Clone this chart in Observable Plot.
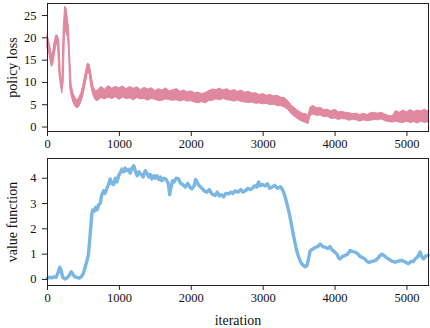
<!DOCTYPE html>
<html>
<head>
<meta charset="utf-8">
<script src="https://cdn.jsdelivr.net/npm/d3@7"></script>
<script src="https://cdn.jsdelivr.net/npm/@observablehq/plot@0.6"></script>
<style>
  html, body { margin: 0; padding: 0; background: white; }
  #c svg { display: block; }
  #c svg text { font-family: 'Liberation Serif', 'Times New Roman', serif; }
</style>
</head>
<body>
<div id="c" style="width:430px"></div>
<script>
// policy loss: iteration, lower and upper edge of the noisy band
const lossIter = [0,20,40,60,80,100,120,145,165,185,205,225,245,265,285,300,315,335,360,390,415,440,470,500,530,560,585,610,640,670,
  700,750,800,850,900,950,1000,1050,1100,1150,1200,1250,1300,1350,1400,1450,1500,1550,1600,1650,1700,1750,1800,1850,1900,1950,
  2000,2050,2100,2150,2200,2250,2300,2350,2400,2450,2500,2550,2600,2650,2700,2750,2800,2850,2900,2950,3000,3050,3100,3150,3200,3250,3300,
  3350,3400,3450,3500,3550,3600,3630,3660,3700,3750,3800,3850,3900,3950,
  4000,4050,4100,4150,4200,4250,4300,4350,4400,4450,4500,4550,4600,4650,4700,4750,4800,4850,4900,4950,5000,5050,5100,5150,5200,5250,5300];
const lossLo = [17.5,17,15,13.5,14,16,18,19,12,9.5,7.5,10,22,21,20,17,9,7,5.5,4.5,4.2,4.5,5.5,7,9.5,12,12,9,7,6,
  5.8,6.5,6.2,6.6,6.3,6.7,6.1,6.6,6.3,6.4,6.0,6.5,6.2,6.3,5.9,6.3,6.1,5.8,5.9,6.2,6.0,5.9,6.0,5.7,6.0,5.7,
  5.8,5.5,5.3,5.6,5.3,5.8,5.9,6.2,6.0,6.3,6.0,5.9,5.7,5.9,5.6,5.5,5.4,5.5,5.2,5.3,5.1,5.2,4.9,5.0,4.7,4.7,4.4,
  3.8,2.8,2.2,1.6,1.2,0.9,0.6,2.5,2.8,2.5,2.6,2.2,2.3,1.8,
  1.9,1.6,1.8,1.7,1.4,1.6,1.5,1.2,1.5,1.3,1.4,1.6,1.5,1.7,1.3,1.1,1.0,1.2,1.0,0.9,1.2,0.9,1.1,0.8,1.2,0.9,1.1];
const lossHi = [20.5,19.5,18,16,17,19,20.5,20.5,19,12,9.5,22,27,26.5,24,22,16,9.5,7.5,6.5,6,6.5,7.5,9.5,12,14.2,14,12,9,8,
  8.2,9.0,8.4,9.2,8.6,9.0,8.7,9.1,8.5,9.0,8.6,8.9,8.3,8.8,8.4,8.7,8.1,8.5,8.2,8.7,8.0,8.3,8.5,7.9,8.2,7.8,
  8.0,7.6,7.7,7.4,7.6,8.1,8.4,8.3,8.6,8.2,8.5,8.0,8.3,7.9,8.2,7.7,7.9,7.5,7.6,7.2,7.4,7.0,7.2,6.9,7.0,6.6,6.5,
  5.8,4.8,4.1,3.5,3.0,2.9,2.5,4.4,4.7,4.2,4.3,3.8,3.9,3.5,
  3.9,3.3,3.4,3.2,3.1,2.9,3.0,2.7,3.0,2.7,3.1,3.2,3.0,3.2,2.8,2.5,2.4,3.6,3.2,3.7,3.3,3.8,3.4,3.7,3.5,3.9,3.5];

// value function
const valueIter = [0,30,60,90,120,150,170,190,210,240,270,300,330,350,380,410,440,470,500,524,550,570,585,600,617,630,650,670,690,710,733,755,780,800,826,850,872,895,920,945,965,990,
  1010,1035,1060,1080,1105,1130,1150,1175,1200,1220,1246,1270,1300,1330,1360,1382,1410,1430,1453,1480,1500,1522,1550,1570,1591,1620,1650,1680,1700,1715,1740,1760,1790,1823,1850,1880,1917,1950,1980,
  2010,2040,2060,2080,2110,2150,2180,2217,2250,2280,2310,2333,2360,2390,2420,2449,2480,2518,2550,2580,2611,2650,2690,2720,2750,2790,2820,2850,2880,2910,2936,2960,2990,
  3030,3060,3090,3122,3160,3200,3240,3262,3285,3307,3330,3354,3375,3400,3420,3445,3470,3494,3520,3540,3560,3585,3610,3630,3655,3690,3723,3760,3793,3830,3866,3900,3930,3958,3990,
  4026,4050,4070,4100,4140,4175,4210,4245,4280,4320,4350,4372,4410,4440,4466,4500,4530,4560,4600,4630,4652,4690,4720,4745,4790,4838,4880,4930,4970,
  5020,5060,5090,5114,5150,5183,5205,5230,5260,5295];
const valueVal = [0.05,0.09,0.06,0.1,0.08,0.3,0.48,0.35,0.1,0.02,0.06,0.15,0.3,0.22,0.1,0.08,0.05,0.1,0.25,0.48,0.75,1.0,1.5,2.0,2.6,2.75,2.7,2.85,2.75,2.95,3.0,3.35,3.5,3.4,3.6,3.75,3.97,3.8,3.75,4.0,3.85,4.1,
  4.2,4.36,4.25,4.4,4.3,4.35,4.2,4.4,4.49,4.3,4.1,4.25,4.15,4.05,4.3,4.2,4.05,4.15,3.97,4.1,4.0,4.1,3.95,4.05,3.9,4.0,3.95,3.8,3.35,3.6,3.9,3.85,4.0,3.97,3.8,3.75,3.65,3.8,3.65,
  3.58,3.7,3.95,3.85,3.7,3.6,3.5,3.45,3.55,3.4,3.35,3.32,3.45,3.3,3.35,3.26,3.4,3.38,3.45,3.4,3.5,3.45,3.55,3.45,3.5,3.6,3.55,3.6,3.7,3.65,3.85,3.7,3.75,
  3.7,3.78,3.6,3.65,3.72,3.6,3.66,3.58,3.45,3.24,3.0,2.72,2.45,2.06,1.75,1.42,1.1,0.88,0.7,0.6,0.55,0.5,0.55,0.8,1.14,1.2,1.27,1.3,1.4,1.3,1.27,1.22,1.3,1.17,1.1,
  1.0,0.85,0.81,0.9,0.95,1.0,1.14,1.1,1.08,1.0,0.9,0.88,0.82,0.72,0.68,0.7,0.72,0.75,0.85,0.95,1.0,0.92,0.85,0.81,0.72,0.68,0.72,0.75,0.7,
  0.62,0.72,0.7,0.81,0.9,1.08,0.9,0.81,0.92,0.95];

const xTicks = [0,1000,2000,3000,4000,5000];
const lossTicks = [0,5,10,15,20,25];
const valueTicks = [0,1,2,3,4];
const lossLabel = "policy loss";
const valueLabel = "value function";
const xLabel = "iteration";

const pink = "#e0889f";
const blue = "#7ab7e4";
const serif = "'Liberation Serif', 'Times New Roman', serif";

const lossData = lossIter.map((it, i) => ({iter: it, lo: lossLo[i], hi: lossHi[i]}));
const valueData = valueIter.map((it, i) => ({iter: it, v: valueVal[i]}));

const chartStyle = {fontFamily: serif, fontSize: "12.5px", color: "#111", background: "white", overflow: "visible"};
const axisText = {fontFamily: serif, fontSize: 12.5, fontVariant: "normal", stroke: "#222", color: "#111"};
const yTitle = (t) => Plot.text([t], {text: d => d, frameAnchor: "left", dx: -34.5, rotate: -90, textAnchor: "middle", lineAnchor: "middle", fontSize: 14, fontFamily: serif, fill: "#111"});

const topChart = Plot.plot({
  width: 430, height: 155,
  marginLeft: 47, marginRight: 2, marginTop: 3, marginBottom: 24,
  style: chartStyle,
  x: {domain: [0, 5300]},
  y: {domain: [-1, 27.7]},
  marks: [
    Plot.areaY(lossData, {x: "iter", y1: "lo", y2: "hi", fill: pink, stroke: pink, strokeWidth: 1}),
    Plot.frame({stroke: "#222", strokeWidth: 1}),
    Plot.axisX({...axisText, ticks: xTicks, tickFormat: d3.format("d"), tickSize: 5, tickPadding: 3, label: null}),
    Plot.axisY({...axisText, ticks: lossTicks, tickFormat: d3.format("d"), tickSize: 5, tickPadding: 6, label: null}),
    yTitle(lossLabel)
  ]
});

const bottomChart = Plot.plot({
  width: 430, height: 173,
  marginLeft: 47, marginRight: 2, marginTop: 3, marginBottom: 43,
  style: chartStyle,
  x: {domain: [0, 5300]},
  y: {domain: [-0.24, 4.78]},
  marks: [
    Plot.line(valueData, {x: "iter", y: "v", stroke: blue, strokeWidth: 3.4, curve: "linear"}),
    Plot.frame({stroke: "#222", strokeWidth: 1}),
    Plot.axisX({...axisText, ticks: xTicks, tickFormat: d3.format("d"), tickSize: 5, tickPadding: 3, label: null}),
    Plot.axisY({...axisText, ticks: valueTicks, tickFormat: d3.format("d"), tickSize: 5, tickPadding: 6, label: null}),
    yTitle(valueLabel),
    Plot.text([xLabel], {text: d => d, frameAnchor: "bottom", dy: 35, textAnchor: "middle", lineAnchor: "middle", fontSize: 14, fontFamily: serif, fill: "#111"})
  ]
});

document.getElementById("c").append(topChart, bottomChart);
</script>
</body>
</html>
